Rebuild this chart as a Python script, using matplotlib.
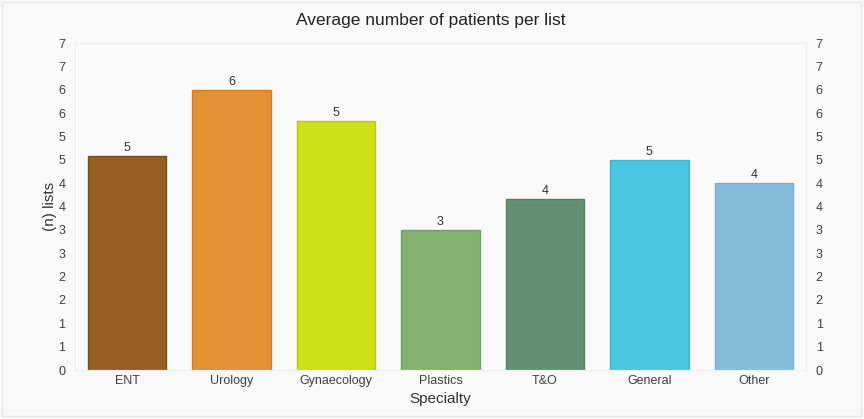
import numpy as np
import matplotlib.pyplot as plt
from matplotlib.ticker import FuncFormatter

plt.rcParams['font.family'] = ['Liberation Sans', 'DejaVu Sans']

# data
specialties = ['ENT', 'Urology', 'Gynaecology', 'Plastics', 'T&O', 'General', 'Other']
avg_patients = [4.58, 6.0, 5.33, 3.0, 3.67, 4.5, 4.0]
bar_colors = ['#975F22', '#E29135', '#CEE018', '#83B26F', '#648F70', '#4BC6E0', '#86BDDC']
edge_colors = ['#7E4E1B', '#D0802A', '#B9CA12', '#74A260', '#557F61', '#3BB5CF', '#76ADCC']


def round_half_up(v):
    return str(int(np.floor(v + 0.5)))


def main():
    fig = plt.figure(figsize=(8.64, 4.19), dpi=100, facecolor='#F9F9F9')
    ax = fig.add_axes([75 / 864, 1 - 370 / 419, 731 / 864, 327 / 419])
    ax.set_facecolor('#FAFAFA')

    x = np.arange(len(specialties))
    bars = ax.bar(x, avg_patients, width=0.75, color=bar_colors,
                  edgecolor=edge_colors, linewidth=1, zorder=2)
    for b, v in zip(bars, avg_patients):
        ax.text(b.get_x() + b.get_width() / 2, v + 0.04, round_half_up(v),
                ha='center', va='bottom', fontsize=9, color='#333333')

    ax.set_xlim(-0.5, len(specialties) - 0.5)
    ax.set_ylim(0, 7)
    ticks = np.arange(0, 7.01, 0.5)
    ax.set_yticks(ticks)
    ax.yaxis.set_major_formatter(FuncFormatter(lambda v, p: round_half_up(v)))
    ax.set_xticks(x)
    ax.set_xticklabels(specialties)
    ax.tick_params(axis='both', length=0, labelsize=9, colors='#404040')
    ax.tick_params(axis='y', pad=7)

    ax2 = ax.twinx()
    ax2.set_ylim(0, 7)
    ax2.set_yticks(ticks)
    ax2.yaxis.set_major_formatter(FuncFormatter(lambda v, p: round_half_up(v)))
    ax2.tick_params(axis='y', length=0, labelsize=9, colors='#404040', pad=7)

    for a in (ax, ax2):
        for s in a.spines.values():
            s.set_color('#F0F0F0')
            s.set_linewidth(0.8)

    ax.set_xlabel('Specialty', fontsize=11, color='#333333', labelpad=4)
    ax.set_ylabel('(n) lists', fontsize=11, color='#333333', labelpad=1)
    fig.text(431 / 864, 1 - 20 / 419, 'Average number of patients per list',
             ha='center', va='center', fontsize=12.5, color='#222222')

    # light outer frame
    fig.patches.append(plt.Rectangle((0.002, 0.006), 0.994, 0.99, transform=fig.transFigure,
                                     fill=False, edgecolor='#E6E6E6', linewidth=1))

    fig.savefig('out.png', dpi=100, facecolor=fig.get_facecolor())


if __name__ == '__main__':
    main()
